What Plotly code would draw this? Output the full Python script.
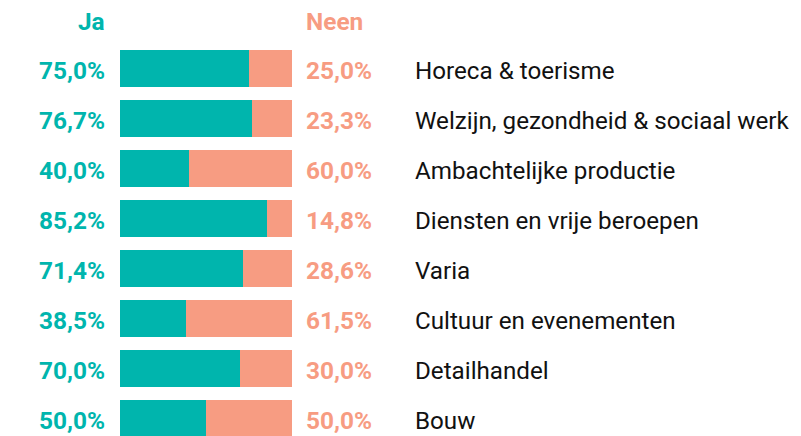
import plotly.graph_objects as go

categories = ["Horeca & toerisme", "Welzijn, gezondheid & sociaal werk", "Ambachtelijke productie",
              "Diensten en vrije beroepen", "Varia", "Cultuur en evenementen", "Detailhandel", "Bouw"]
ja = [75.0, 76.7, 40.0, 85.2, 71.4, 38.5, 70.0, 50.0]
neen = [25.0, 23.3, 60.0, 14.8, 28.6, 61.5, 30.0, 50.0]

TEAL = "#00b5ad"
SALMON = "#f79c82"
OX, OY = 8, 8  # page body margin compensation
W, H = 801 - OX, 436 - OY

def fmt(v):
    return f"{v:.1f}%".replace(".", ",")

def px(x):
    return (x - OX) / W

fig = go.Figure()
fig.add_trace(go.Bar(y=categories, x=ja, orientation="h", marker=dict(color=TEAL, line=dict(width=0)), name="Ja"))
fig.add_trace(go.Bar(y=categories, x=neen, orientation="h", marker=dict(color=SALMON, line=dict(width=0)), name="Neen"))

ann = []
font_b = "Roboto"
NS = 24.4
CS = 24.2
for c, a, n in zip(categories, ja, neen):
    ann.append(dict(x=px(107), xref="paper", y=c, yref="y", text=fmt(a), showarrow=False, yshift=-2,
                    xanchor="right", yanchor="middle", font=dict(family=font_b, size=NS, color=TEAL, weight="bold")))
    ann.append(dict(x=px(304), xref="paper", y=c, yref="y", text=fmt(n), showarrow=False, yshift=-2,
                    xanchor="left", yanchor="middle", font=dict(family=font_b, size=NS, color=SALMON, weight="bold")))
    ann.append(dict(x=px(413), xref="paper", y=c, yref="y", text=c, showarrow=False, yshift=-2,
                    xanchor="left", yanchor="middle", font=dict(family=font_b, size=CS, color="#111111")))
ann.append(dict(x=px(107), xref="paper", y=1 - (22 - OY) / H, yref="paper", text="Ja", showarrow=False,
                xanchor="right", yanchor="middle", font=dict(family=font_b, size=NS, color=TEAL, weight="bold")))
ann.append(dict(x=px(304), xref="paper", y=1 - (22 - OY) / H, yref="paper", text="Neen", showarrow=False,
                xanchor="left", yanchor="middle", font=dict(family=font_b, size=NS, color=SALMON, weight="bold")))

fig.update_layout(
    width=W, height=H, margin=dict(l=0, r=0, t=0, b=0),
    barmode="stack", bargap=0.26, showlegend=False,
    plot_bgcolor="white", paper_bgcolor="white",
    xaxis=dict(domain=[px(120), px(292)], range=[0, 100], visible=False, fixedrange=True),
    yaxis=dict(range=[-1.21 + H / 50, -1.21], visible=False, fixedrange=True),
    annotations=ann,
)
fig.write_html("out.html", config=dict(displayModeBar=False))
